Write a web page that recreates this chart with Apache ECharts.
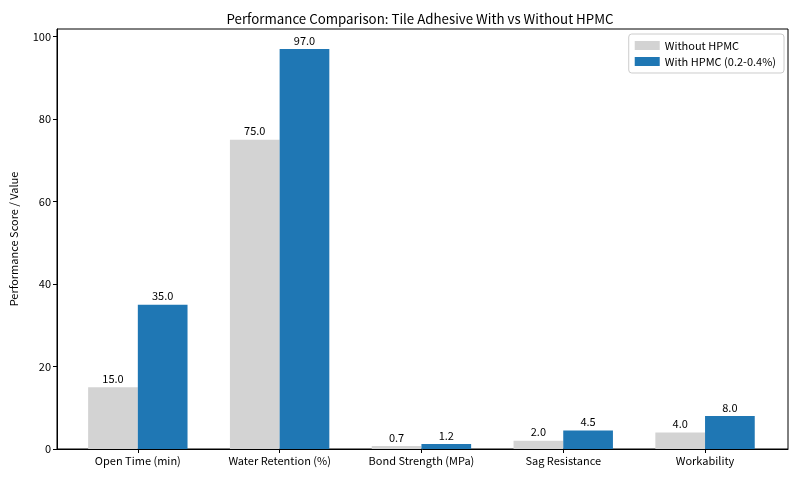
<!DOCTYPE html>
<html>
<head>
<meta charset="utf-8">
<script src="https://cdn.jsdelivr.net/npm/echarts@6/dist/echarts.min.js"></script>
<style>
  html, body { margin: 0; padding: 0; background: #fff; }
  #main { width: 800px; height: 480px; }
</style>
</head>
<body>
<div id="main"></div>
<script>
var categories = ['Open Time (min)', 'Water Retention (%)', 'Bond Strength (MPa)', 'Sag Resistance', 'Workability'];
var withoutHPMC = [15.0, 75.0, 0.7, 2.0, 4.0];
var withHPMC = [35.0, 97.0, 1.2, 4.5, 8.0];
var yTicks = [0, 20, 40, 60, 80, 100];

var font = '"Noto Sans CJK SC", "Noto Sans", sans-serif';
var idx = categories.map((c, i) => i);

var myChart = echarts.init(document.getElementById('main'), null, { renderer: 'canvas' });

var valueLabel = {
    show: true,
    position: 'top',
    distance: 3,
    color: '#000',
    fontSize: 11,
    fontFamily: font,
    formatter: p => p.value[1].toFixed(1)
};

var option = {
    animation: false,
    backgroundColor: '#fff',
    title: {
        text: 'Performance Comparison: Tile Adhesive With vs Without HPMC',
        left: 415,
        top: 7,
        textAlign: 'center',
        textStyle: { fontSize: 13.3, fontWeight: 'normal', color: '#000', fontFamily: font }
    },
    legend: {
        orient: 'vertical',
        right: 16,
        top: 34,
        itemWidth: 25,
        itemHeight: 9,
        itemGap: 5,
        padding: [6, 8, 6, 6],
        borderColor: '#ccc',
        borderWidth: 1,
        borderRadius: 3,
        textStyle: { fontSize: 11, color: '#000', fontFamily: font },
        data: [
            { name: 'Without HPMC', icon: 'rect' },
            { name: 'With HPMC (0.2-0.4%)', icon: 'rect' }
        ]
    },
    grid: {
        left: 54,
        right: 12,
        top: 29,
        bottom: 31,
        show: true,
        borderColor: '#000',
        borderWidth: 1
    },
    xAxis: {
        type: 'value',
        min: -0.57,
        max: 4.585,
        axisLine: { show: true, onZero: false, lineStyle: { color: '#000' } },
        axisTick: { show: true, customValues: idx, length: 4, lineStyle: { color: '#000' } },
        axisLabel: {
            customValues: idx,
            formatter: v => categories[Math.round(v)],
            color: '#000',
            fontSize: 11,
            fontFamily: font,
            margin: 6
        },
        splitLine: { show: false }
    },
    yAxis: {
        type: 'value',
        min: 0,
        max: 101.85,
        name: 'Performance Score / Value',
        nameLocation: 'middle',
        nameGap: 38,
        nameTextStyle: { fontSize: 11, color: '#000', fontFamily: font },
        axisLine: { show: true, onZero: false, lineStyle: { color: '#000' } },
        axisTick: { show: true, customValues: yTicks, length: 4, lineStyle: { color: '#000' } },
        axisLabel: {
            customValues: yTicks,
            color: '#000',
            fontSize: 11,
            fontFamily: font,
            margin: 6
        },
        splitLine: { show: false }
    },
    series: [
        {
            name: 'Without HPMC',
            type: 'bar',
            data: withoutHPMC.map((v, i) => [i, v]),
            barWidth: 49.7,
            barGap: '0%',
            itemStyle: { color: '#d3d3d3' },
            label: valueLabel
        },
        {
            name: 'With HPMC (0.2-0.4%)',
            type: 'bar',
            data: withHPMC.map((v, i) => [i, v]),
            barWidth: 49.7,
            barGap: '0%',
            itemStyle: { color: '#1f77b4' },
            label: valueLabel
        }
    ]
};

myChart.setOption(option);
</script>
</body>
</html>
